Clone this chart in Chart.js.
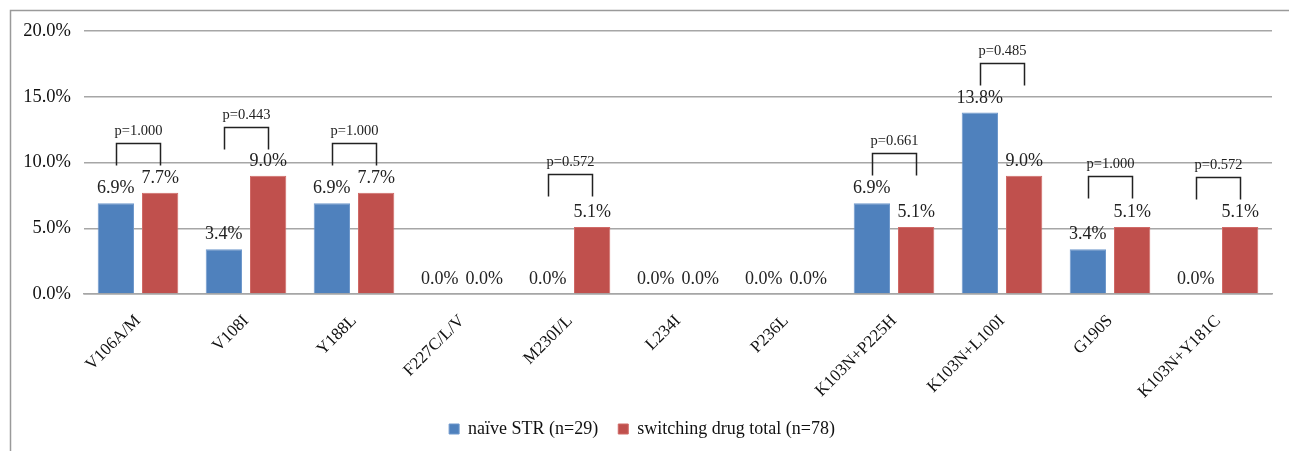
<!DOCTYPE html>
<html>
<head>
<meta charset="utf-8">
<script src="https://cdn.jsdelivr.net/npm/chart.js@4.4.0/dist/chart.umd.min.js"></script>
<style>
  html, body { margin: 0; padding: 0; background: #fff; }
  #wrap { position: relative; width: 1289px; height: 451px; }
</style>
</head>
<body>
<div id="wrap"><canvas id="chart" width="1289" height="451"></canvas></div>
<script>
// data
const categories = ['V106A/M', 'V108I', 'Y188L', 'F227C/L/V', 'M230I/L', 'L234I', 'P236L',
                    'K103N+P225H', 'K103N+L100I', 'G190S', 'K103N+Y181C'];
const naiveSTR = [6.9, 3.4, 6.9, 0.0, 0.0, 0.0, 0.0, 6.9, 13.8, 3.4, 0.0];
const switchingTotal = [7.7, 9.0, 7.7, 0.0, 5.1, 0.0, 0.0, 5.1, 9.0, 5.1, 5.1];
// p-value brackets: text and the height (in %) of the bracket top
const pValues = ['p=1.000', 'p=0.443', 'p=1.000', null, 'p=0.572', null, null,
                 'p=0.661', 'p=0.485', 'p=1.000', 'p=0.572'];
const bracketLevels = [11.5, 12.7, 11.5, null, 9.1, null, null, 10.7, 17.6, 9.0, 8.9];
const yTicks = [0, 5, 10, 15, 20];

const serif = '"Liberation Serif", "Times New Roman", serif';

// frame lines (top and left edge of the exported figure)
const framePlugin = {
    id: 'frame',
    beforeDraw(chart) {
        const ctx = chart.ctx;
        ctx.save();
        ctx.strokeStyle = '#9a9a9a';
        ctx.lineWidth = 1.5;
        ctx.beginPath();
        ctx.moveTo(10.5, 451);
        ctx.lineTo(10.5, 10.5);
        ctx.lineTo(1289, 10.5);
        ctx.stroke();
        ctx.restore();
    }
};

// value labels over each bar
const valueLabels = {
    id: 'valueLabels',
    afterDatasetsDraw(chart) {
        const ctx = chart.ctx;
        ctx.save();
        ctx.font = '18px ' + serif;
        ctx.fillStyle = '#222';
        ctx.textAlign = 'center';
        ctx.textBaseline = 'alphabetic';
        chart.data.datasets.forEach(function(ds, i) {
            chart.getDatasetMeta(i).data.forEach(function(bar, j) {
                ctx.fillText(ds.data[j].toFixed(1) + '%', bar.x, bar.y - 10);
            });
        });
        ctx.restore();
    }
};

// brackets with p-values
const brackets = {
    id: 'brackets',
    afterDatasetsDraw(chart) {
        const ctx = chart.ctx;
        const y = chart.scales.y;
        const a = chart.getDatasetMeta(0).data;
        const b = chart.getDatasetMeta(1).data;
        ctx.save();
        ctx.strokeStyle = '#222';
        ctx.lineWidth = 1.5;
        ctx.fillStyle = '#222';
        ctx.font = '14.5px ' + serif;
        ctx.textAlign = 'center';
        pValues.forEach(function(p, i) {
            if (!p) return;
            const top = Math.round(y.getPixelForValue(bracketLevels[i])) + 0.5;
            const x1 = Math.round(a[i].x) + 0.5, x2 = Math.round(b[i].x) + 0.5;
            ctx.beginPath();
            ctx.moveTo(x1, top + 22);
            ctx.lineTo(x1, top);
            ctx.lineTo(x2, top);
            ctx.lineTo(x2, top + 22);
            ctx.stroke();
            ctx.fillText(p, (x1 + x2) / 2, top - 12);
        });
        ctx.restore();
    }
};

new Chart(document.getElementById('chart').getContext('2d'), {
    type: 'bar',
    data: {
        labels: categories,
        datasets: [{
            label: 'naïve STR (n=29)',
            data: naiveSTR,
            backgroundColor: '#4F81BD',
            borderColor: '#6f98cc',
            borderWidth: 1
        }, {
            label: 'switching drug total (n=78)',
            data: switchingTotal,
            backgroundColor: '#C0504D',
            borderColor: '#d06a67',
            borderWidth: 1
        }]
    },
    options: {
        responsive: false,
        animation: false,
        categoryPercentage: 0.82,
        barPercentage: 0.82,
        layout: { padding: { left: 12, right: 17, top: 31, bottom: 3 } },
        plugins: {
            legend: {
                position: 'bottom',
                labels: {
                    color: '#111',
                    font: { family: serif, size: 18 },
                    boxWidth: 10,
                    boxHeight: 10,
                    padding: 20
                }
            },
            tooltip: { enabled: false }
        },
        scales: {
            x: {
                grid: { display: false },
                border: { color: '#a6a6a6', width: 1.5 },
                ticks: {
                    color: '#111',
                    font: { family: serif, size: 17 },
                    minRotation: 45,
                    maxRotation: 45,
                    padding: 9
                },
                afterFit(scale) { scale.height = 106; }
            },
            y: {
                min: 0,
                max: 20,
                afterBuildTicks(scale) {
                    scale.ticks = yTicks.map(function(v) { return { value: v }; });
                },
                grid: { color: '#a6a6a6', lineWidth: 1.5, drawTicks: false },
                border: { display: false },
                ticks: {
                    color: '#111',
                    font: { family: serif, size: 18.5 },
                    padding: 13,
                    callback: function(v) { return v.toFixed(1) + '%'; }
                },
                afterFit(scale) { scale.width = 72; }
            }
        }
    },
    plugins: [framePlugin, valueLabels, brackets]
});
</script>
</body>
</html>
